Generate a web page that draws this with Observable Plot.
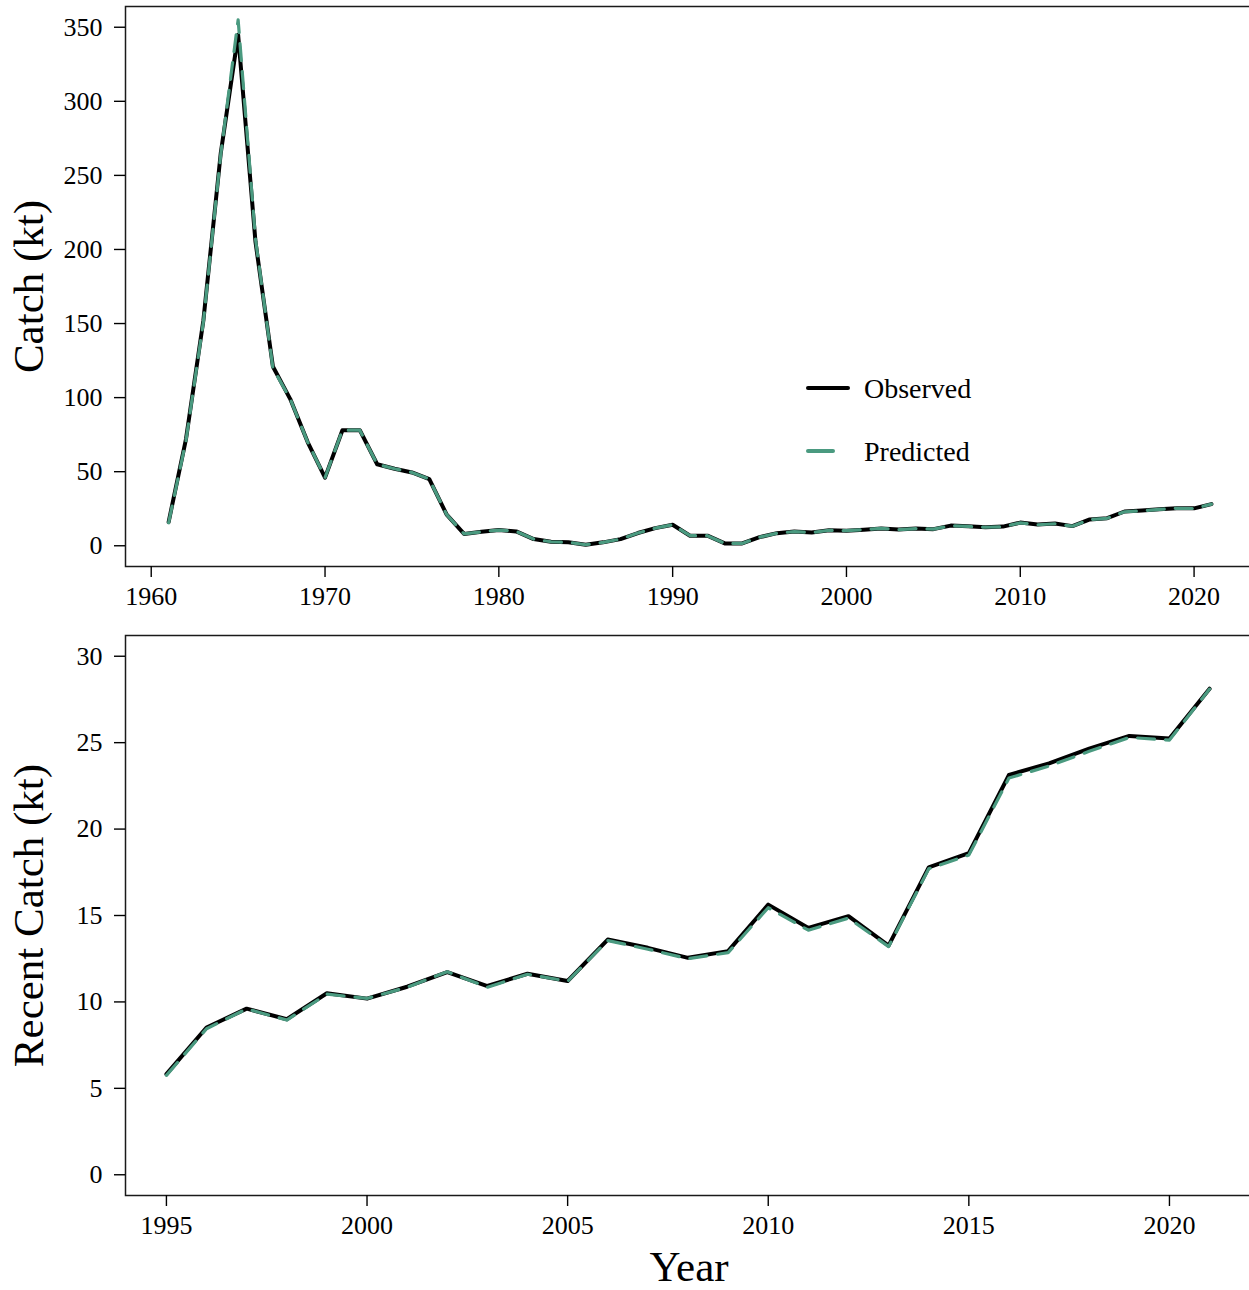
<!DOCTYPE html>
<html>
<head>
<meta charset="utf-8">
<script src="https://cdn.jsdelivr.net/npm/d3@7"></script>
<script src="https://cdn.jsdelivr.net/npm/@observablehq/plot@0.6"></script>
<style>
  html, body { margin: 0; padding: 0; background: #fff; }
  #wrap { position: relative; width: 1249px; height: 1290px; overflow: hidden; background: #fff;
          font-family: "Liberation Serif", "Times New Roman", serif; color: #000; }
  #wrap > svg { display: block; }
  .lg-item { position: absolute; font-size: 28px; line-height: 32px; height: 32px; white-space: nowrap; }
  .lg-item svg { position: absolute; left: 0; top: 0; overflow: visible; }
  .lg-item span { position: absolute; left: 56px; top: 0; }
</style>
</head>
<body>
<div id="wrap"></div>
<script>
// ---------------- data ----------------
const yearsEarly = [1961,1962,1963,1964,1965,1966,1967,1968,1969,1970,1971,1972,1973,1974,1975,1976,1977,1978,1979,1980,1981,1982,1983,1984,1985,1986,1987,1988,1989,1990,1991,1992,1993,1994];
const observedEarly = [16,72,152,265,345,205,121,99,70,46,78,78,55,52,49.5,45,21,8,9.4,10.6,9.7,4.5,2.7,2.3,0.7,2.3,4.5,8.6,11.9,14.2,6.8,6.8,1.6,1.6];
const predictedEarly = [15.5,71,151,264,355,207,120,99,70,46,78,78,55,52,49.5,45,21,8,9.4,10.6,9.7,4.5,2.7,2.3,0.7,2.3,4.5,8.6,11.9,14.2,6.8,6.8,1.6,1.6];

const yearsRecent = [1995,1996,1997,1998,1999,2000,2001,2002,2003,2004,2005,2006,2007,2008,2009,2010,2011,2012,2013,2014,2015,2016,2017,2018,2019,2020,2021];
const observedRecent = [5.82,8.52,9.61,9.0,10.5,10.19,10.88,11.73,10.92,11.63,11.21,13.61,13.13,12.55,12.94,15.63,14.28,14.96,13.26,17.78,18.61,23.13,23.8,24.66,25.39,25.24,28.12];
const predictedRecent = [5.75,8.45,9.6,8.95,10.45,10.2,10.85,11.75,10.85,11.6,11.2,13.55,13.05,12.5,12.85,15.45,14.15,14.85,13.2,17.7,18.5,22.95,23.65,24.5,25.3,25.15,28.1];

const topTicksY = [0,50,100,150,200,250,300,350];
const topTicksX = [1960,1970,1980,1990,2000,2010,2020];
const bottomTicksY = [0,5,10,15,20,25,30];
const bottomTicksX = [1995,2000,2005,2010,2015,2020];

const seriesNames = ["Observed","Predicted"];
const seriesColors = ["#000000","#4a9a80"];
const titles = {top: "Catch (kt)", bottom: "Recent Catch (kt)", x: "Year"};

// ---------------- tables ----------------
const yearsAll = yearsEarly.concat(yearsRecent);
const observedAll = observedEarly.concat(observedRecent);
const predictedAll = predictedEarly.concat(predictedRecent);
const topData = yearsAll.map((y, i) => ({year: y, obs: observedAll[i], pred: predictedAll[i]}));
const bottomData = yearsRecent.map((y, i) => ({year: y, obs: observedRecent[i], pred: predictedRecent[i]}));

const fmt = d => String(d);
const baseStyle = {fontFamily: '"Liberation Serif", "Times New Roman", serif', fontSize: "26px", color: "#000", background: "#fff", overflow: "visible"};

function panel(data, opts) {
  return Plot.plot({
    width: 1249,
    height: opts.height,
    marginTop: opts.marginTop,
    marginBottom: opts.marginBottom,
    marginLeft: 125,
    marginRight: opts.marginRight,
    style: baseStyle,
    x: {domain: opts.xDomain, range: opts.xRange},
    y: {domain: opts.yDomain},
    marks: [
      Plot.frame({stroke: "#1a1a1a", strokeWidth: 1.5}),
      Plot.axisY({ticks: opts.yTicks, tickFormat: fmt, tickSize: 11, tickPadding: 12, fontSize: 26, strokeWidth: 1.4, label: null}),
      Plot.axisX({ticks: opts.xTicks, tickFormat: fmt, tickSize: 11, tickPadding: 9, fontSize: 26, strokeWidth: 1.4, label: null}),
      Plot.line(data, {x: "year", y: "obs", stroke: seriesColors[0], strokeWidth: 4, strokeLinejoin: "round", strokeLinecap: "round"}),
      Plot.line(data, {x: "year", y: "pred", stroke: seriesColors[1], strokeWidth: 3.2, strokeDasharray: "17,11"}),
      Plot.text([opts.yTitle], {text: d => d, frameAnchor: "left", dx: -96, rotate: -90, textAnchor: "middle", lineAnchor: "middle", fontSize: 43}),
      ...(opts.xTitle ? [Plot.text([opts.xTitle], {text: d => d, frameAnchor: "bottom", dy: 72, textAnchor: "middle", lineAnchor: "middle", fontSize: 43})] : [])
    ]
  });
}

const wrap = document.getElementById("wrap");

wrap.appendChild(panel(topData, {
  height: 620, marginTop: 6, marginBottom: 54, marginRight: -1,
  xDomain: [1958.52, 2023.2], xRange: [125, 1249.2],
  yDomain: [-14, 364], yTicks: topTicksY, xTicks: topTicksX, yTitle: titles.top
}));

wrap.appendChild(panel(bottomData, {
  height: 670, marginTop: 15, marginBottom: 95, marginRight: -3,
  xDomain: [1993.98, 2022.07], xRange: [125, 1252],
  yDomain: [-1.2, 31.2], yTicks: bottomTicksY, xTicks: bottomTicksX, yTitle: titles.bottom, xTitle: titles.x
}));

// ---------------- legend (inside top panel) ----------------
const legendRows = [
  {top: 373, len: 40},
  {top: 436, len: 25}
];
seriesNames.forEach((name, i) => {
  const row = legendRows[i];
  const item = document.createElement("div");
  item.className = "lg-item";
  item.style.left = "808px";
  item.style.top = row.top + "px";
  item.innerHTML =
    `<svg width="50" height="32"><line x1="0" x2="${row.len}" y1="15" y2="15" stroke="${seriesColors[i]}" stroke-width="4" stroke-linecap="round"></line></svg>` +
    `<span>${name}</span>`;
  wrap.appendChild(item);
});
</script>
</body>
</html>
